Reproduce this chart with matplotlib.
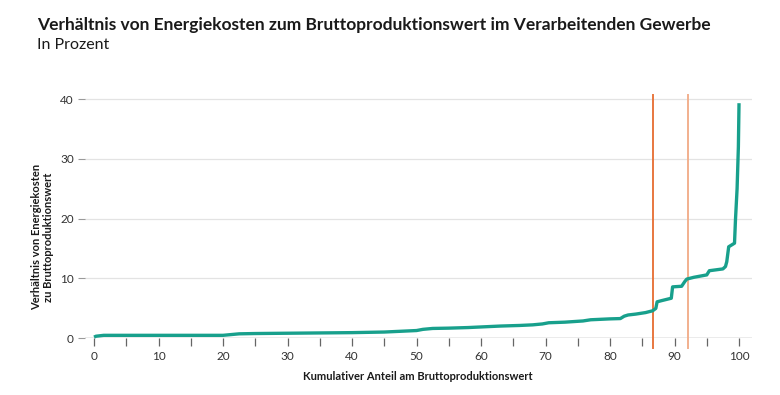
import matplotlib
matplotlib.use("Agg")
import matplotlib.pyplot as plt

plt.rcParams['font.family'] = ['Lato', 'DejaVu Sans']

title = "Verhältnis von Energiekosten zum Bruttoproduktionswert im Verarbeitenden Gewerbe"
subtitle = "In Prozent"
xlabel = "Kumulativer Anteil am Bruttoproduktionswert"
ylabel = "Verhältnis von Energiekosten\nzu Bruttoproduktionswert"

# cumulative share of gross production value (%)
share = [0, 0.3, 1.5, 5, 10, 15, 20, 21, 22.5, 25, 30, 35, 40, 45, 48, 50, 51, 52.5,
         55, 58, 60, 63, 66, 68, 69.5, 70.5, 73, 75.8, 77, 78, 80, 81.6, 82.2, 82.8,
         84, 85.5, 86.6, 87.1, 87.3, 88, 89.5, 89.7, 91.1, 91.6, 91.9, 93, 95, 95.4,
         97.5, 97.9, 98.1, 98.4, 99.3, 99.45, 99.7, 99.9, 100.0]
# energy cost ratio (%)
ratio = [0.2, 0.35, 0.5, 0.5, 0.5, 0.5, 0.5, 0.6, 0.75, 0.8, 0.85, 0.9, 0.95, 1.05, 1.2, 1.3, 1.5, 1.65,
         1.7, 1.8, 1.9, 2.05, 2.15, 2.25, 2.4, 2.6, 2.7, 2.9, 3.1, 3.15, 3.25, 3.3, 3.7, 3.9,
         4.05, 4.3, 4.6, 5.0, 6.1, 6.3, 6.7, 8.6, 8.7, 9.5, 9.9, 10.2, 10.6, 11.3,
         11.6, 12.0, 12.8, 15.3, 15.9, 19.8, 25.0, 32.0, 39.3]

yticks = [0, 10, 20, 30, 40]
xticks_major = [0, 10, 20, 30, 40, 50, 60, 70, 80, 90, 100]
xticks_minor = [5, 15, 25, 35, 45, 55, 65, 75, 85, 95]
vlines = [86.6, 92.1]
vline_colors = ['#e8773f', '#f2b08e']

fig = plt.figure(figsize=(7.8, 3.95), dpi=100)
ax = fig.add_axes([0.109, 0.1435, 0.855, 0.621])
ax.set_xlim(-1.4, 102)
ax.set_ylim(0, 41)

for s in ax.spines.values():
    s.set_visible(False)

for y in yticks[1:]:
    ax.axhline(y, color='#e3e3e3', lw=0.9, zorder=0)
ax.axhline(0, color='#9a9a9a', lw=1.0, zorder=1)

ax.set_yticks(yticks)
ax.set_yticklabels([str(v) for v in yticks])
ax.set_xticks(xticks_major)
ax.set_xticklabels([str(v) for v in xticks_major])
ax.set_xticks(xticks_minor, minor=True)
ax.tick_params(axis='y', length=5, width=0.8, color='#9a9a9a', pad=3, labelsize=8.5, labelcolor='#333333')
ax.tick_params(axis='x', which='both', length=6, width=0.9, color='#666666', pad=3, labelsize=8.5, labelcolor='#333333')

ax.plot(share, ratio, color='#18a08c', lw=2.4, solid_capstyle='butt', zorder=3, clip_on=False)

for xv, c in zip(vlines, vline_colors):
    ax.plot([xv, xv], [-1.6, 40.7], color=c, lw=1.4, zorder=2, clip_on=False)

fig.text(0.0474, 0.937, title, fontsize=12.5, fontweight='bold', color='#1a1a1a', va='center', ha='left')
fig.text(0.0474, 0.885, subtitle, fontsize=11.5, color='#1a1a1a', va='center', ha='left')
fig.text(0.536, 0.048, xlabel, fontsize=8, fontweight='bold', color='#1a1a1a', ha='center', va='center')
fig.text(0.055, 0.40, ylabel, fontsize=8, fontweight='bold', color='#1a1a1a', ha='center', va='center',
         rotation=90, multialignment='center', linespacing=1.1)

fig.savefig('out.png', dpi=100)
